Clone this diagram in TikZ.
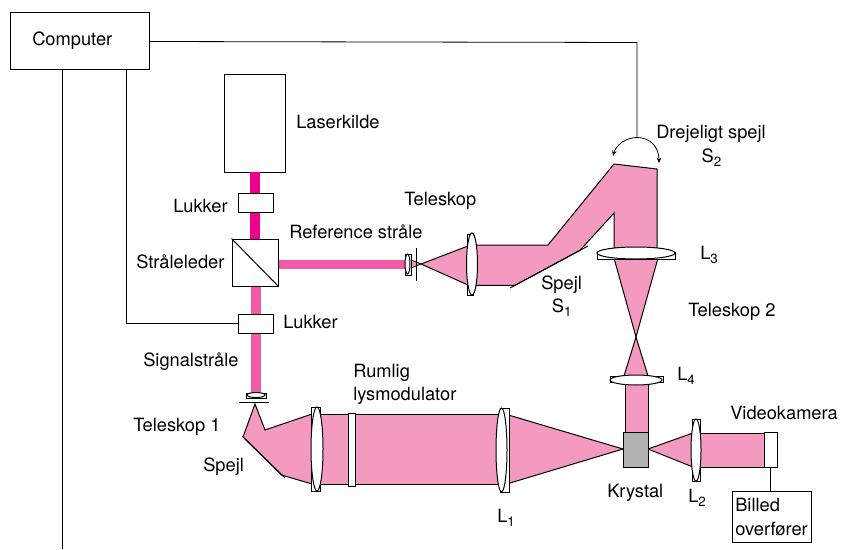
\documentclass[tikz,border=0pt]{standalone}
\usepackage{fontspec}
\setmainfont{TeX Gyre Heros}
\usetikzlibrary{arrows.meta}
\definecolor{beamdeep}{HTML}{EC008C}
\definecolor{beammid}{HTML}{F15BA6}
\definecolor{cone}{HTML}{F49AC1}
\definecolor{crystalgrey}{HTML}{B2B2B2}
\newcommand{\subs}[1]{\raisebox{-0.45ex}{\fontsize{10}{10}\selectfont #1}}
\tikzset{
  x=0.75pt,y=-0.75pt,
  sz/.style 2 args={minimum width=#1*0.75pt,minimum height=#2*0.75pt},
  boxn/.style={draw=black,fill=white,line width=0.75pt,inner sep=0pt},
  wire/.style={draw=black,line width=0.6pt},
  conefill/.style={fill=cone,draw=black,line width=0.75pt,line join=miter},
  mirror/.style={draw=black,line width=0.75pt},
  lensbox/.style={draw=black,fill=white,line width=0.75pt},
  lab/.style={inner sep=0pt,font=\fontsize{13.7}{17.5}\selectfont,align=left,anchor=west},
}
\begin{document}
\begin{tikzpicture}
\useasboundingbox (0,0) rectangle (841,549);
% boxes
\node[boxn,sz={139}{57}] (computer) at (79.5,41.5) {};
\node[boxn,sz={61}{97}] (laser) at (254.5,123.5) {};
% beams
\fill[beamdeep] (250,172) rectangle (260,239);
\fill[beammid] (278,260) rectangle (405,269);
\fill[beammid] (251,286) rectangle (261,393);
\node[boxn,sz={46}{47}] (splitter) at (255,262.5) {};
\node[boxn,sz={35}{19}] (shutterA) at (255.5,202.5) {};
\node[boxn,sz={35}{19}] (shutterB) at (255.5,323.5) {};
% signal cones
\filldraw[conefill] (255,404) -- (243,437) -- (281.7,475) -- (312,484) -- (312,414) -- (265,430) -- cycle;
\filldraw[conefill] (312,414) rectangle (505,484.5);
\filldraw[conefill] (505,414) -- (623,449) -- (505,484.5) -- cycle;
% crystal beam up
\filldraw[conefill] (625,376) rectangle (648,432);
\filldraw[conefill] (624,376) -- (636,337) -- (648,376) -- cycle;
\filldraw[conefill] (636,337) -- (614,258) -- (658,258) -- cycle;
% upper fold
\filldraw[conefill] (614,164) -- (657,169) -- (657,248) -- (614,248) -- (614,213) -- (580,250.3) -- (515,285.3) -- (470,285.3) -- (470,245) -- (548,245) -- cycle;
% reference cone
\filldraw[conefill] (468,246) -- (421,264) -- (468,285) -- cycle;
\filldraw[conefill] (411,260) -- (421,264) -- (411,268) -- cycle;
% camera beam
\filldraw[conefill] (648,449) -- (693,433) -- (693,467) -- cycle;
\filldraw[conefill] (700,433) rectangle (764,467);
% crystal
\node[draw=black,fill=crystalgrey,line width=0.75pt,inner sep=0pt,sz={25}{35}] (crystal) at (635.5,449.5) {};
% camera
\node[boxn,sz={13}{35}] (camera) at (770.5,449.5) {};
\node[boxn,sz={79}{51}] (grabber) at (771.5,516.5) {};
% mirrors
\draw[mirror] (242,436) -- (285,478);
\draw[mirror] (510,288) -- (588,246);
\draw[mirror] (416,248) -- (416,281);
\draw[mirror] (239,402) -- (269,402);
% lenses
\draw[lensbox] (311,407) rectangle (320,491);
\draw[lensbox] (317,449) ellipse [x radius=6,y radius=42];
\filldraw[fill=white,draw=black,line width=0.75pt] (348,413) rectangle (355,486);
\draw[lensbox] (500,408) rectangle (509,492);
\draw[lensbox] (501.5,450) ellipse [x radius=5.5,y radius=42];
\draw[lensbox] (692,419) rectangle (700,481);
\draw[lensbox] (696,450) ellipse [x radius=5,y radius=31];
\draw[lensbox] (467,234) rectangle (473,295);
\draw[lensbox] (472,264) ellipse [x radius=5.5,y radius=31];
\draw[lensbox] (405,254) rectangle (411,275);
\draw[lensbox] (407.5,264) ellipse [x radius=2.5,y radius=10];
\draw[lensbox] (597,252) rectangle (675,259);
\draw[lensbox] (636,253) ellipse [x radius=39,y radius=6];
\draw[lensbox] (610,376) rectangle (663,382);
\draw[lensbox] (636,380) ellipse [x radius=26,y radius=5];
\draw[lensbox] (246,393) rectangle (266,398.5);
\draw[lensbox] (256,395) ellipse [x radius=9,y radius=2.5];
% splitter diagonal
\draw[line width=0.75pt] (splitter.north west) -- (splitter.south east);
% wires
\coordinate (leftend) at (62,549);
\coordinate (arcend) at (637,137.5);
\draw[wire] (computer.east) -- (637,42.5) -- (arcend);
\draw[wire] (computer.south -| leftend) -- (leftend);
\draw[wire] (126,70) |- (shutterB.west);
\draw[wire] (camera.south) -- (camera.south |- grabber.north);
% rotation arrow
\draw[line width=0.6pt,{Stealth[length=4pt,width=3.5pt]}-{Stealth[length=4pt,width=3.5pt]}] (613,156) .. controls (616,145) and (626,137.5) .. (arcend) .. controls (650,137.5) and (659,147) .. (659,163);
% labels
\node[lab] (t1) at (32,41) {Computer};
\node[lab] (t2) at (296,122) {Laserkilde};
\node[lab] (t3) at (173,206) {Lukker};
\node[lab] (t4) at (136,262) {Stråleleder};
\node[lab] (t5) at (289,232) {Reference stråle};
\node[lab] (t6) at (404,201) {Teleskop};
\node[lab] (t7) at (283,322) {Lukker};
\node[lab] (t8) at (143,362) {Signalstråle};
\node[lab] (t9) at (133,427) {Teleskop 1};
\node[lab] (t10) at (203,467) {Spejl};
\node[lab] (t11) at (353,384) {Rumlig\\lysmodulator};
\node[lab] (t12) at (541,296) {Spejl\\\hspace*{8pt}S\subs{1}};
\node[lab] (t13) at (656,146) {Drejeligt spejl\\\hspace*{34pt}S\subs{2}};
\node[lab] (t14) at (700,255) {L\subs{3}};
\node[lab] (t15) at (688,312) {Teleskop 2};
\node[lab] (t16) at (677,376) {L\subs{4}};
\node[lab] (t17) at (730,413) {Videokamera};
\node[lab] (t18) at (607,493) {Krystal};
\node[lab] (t19) at (688,498) {L\subs{2}};
\node[lab] (t20) at (497,518) {L\subs{1}};
\node[lab] (t21) at (735,517) {Billed\\overfører};
\end{tikzpicture}
\end{document}
